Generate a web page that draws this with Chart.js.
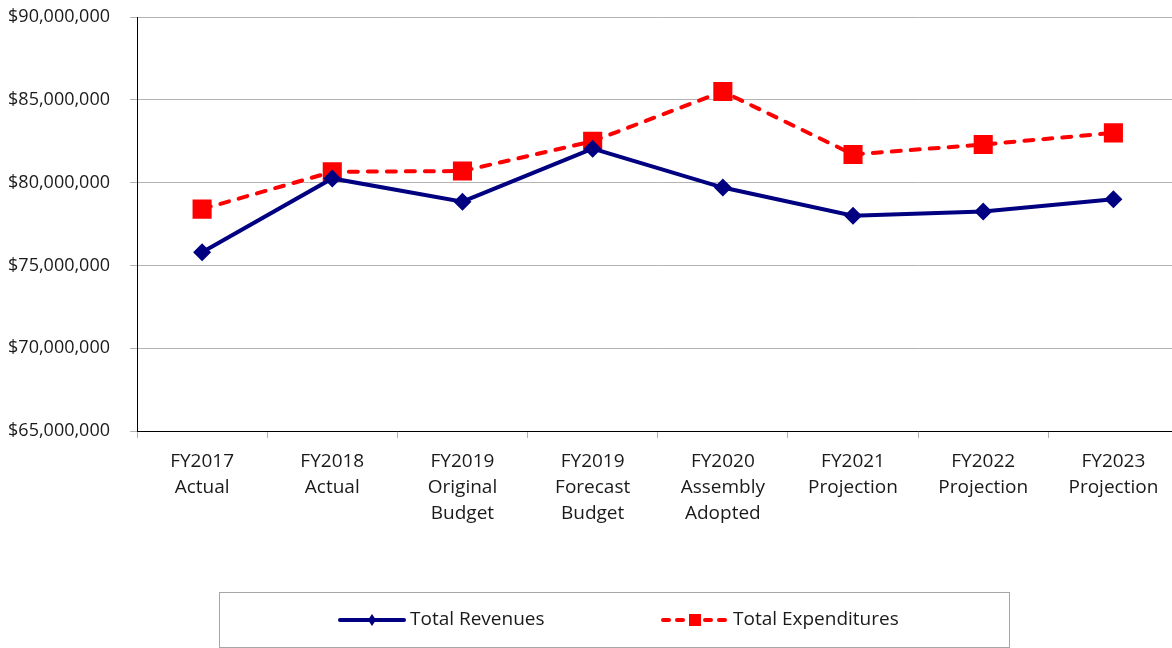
<!DOCTYPE html>
<html>
<head>
<meta charset="utf-8">
<script src="https://cdn.jsdelivr.net/npm/chart.js@4.4.1/dist/chart.umd.min.js"></script>
<style>
  html, body { margin: 0; padding: 0; background: #fff; overflow: hidden; }
  #wrap { width: 1172px; height: 648px; overflow: hidden; }
  canvas { display: block; }
</style>
</head>
<body>
<div id="wrap"><canvas id="lineChart" width="1192" height="648"></canvas></div>
<script>
var categories = [
  ["FY2017", "Actual"],
  ["FY2018", "Actual"],
  ["FY2019", "Original", "Budget"],
  ["FY2019", "Forecast", "Budget"],
  ["FY2020", "Assembly", "Adopted"],
  ["FY2021", "Projection"],
  ["FY2022", "Projection"],
  ["FY2023", "Projection"]
];
var revenues = [75800000, 80250000, 78850000, 82050000, 79700000, 78000000, 78250000, 79000000];
var expenditures = [78400000, 80650000, 80700000, 82500000, 85500000, 81700000, 82300000, 83000000];
var yTicks = [65000000, 70000000, 75000000, 80000000, 85000000, 90000000];

var fontFamily = "'Open Sans', 'DejaVu Sans', sans-serif";
Chart.defaults.font.family = fontFamily;
Chart.defaults.color = "#1a1a1a";

function money(v) {
  return "$" + Number(v).toLocaleString("en-US");
}

// legend drawn as a framed box under the chart
var boxLegend = {
  id: "boxLegend",
  afterDraw: function (chart) {
    var ctx = chart.ctx;
    var bx = 219, by = 592, bw = 790, bh = 55;
    ctx.save();
    ctx.strokeStyle = "#a6a6a6";
    ctx.lineWidth = 1;
    ctx.strokeRect(bx + 0.5, by + 0.5, bw, bh);
    var cy = by + 28;
    var items = [
      { x: 340, ds: chart.data.datasets[0], r: 6 },
      { x: 663, ds: chart.data.datasets[1], r: 9 }
    ];
    items.forEach(function (it) {
      var ds = it.ds;
      ctx.strokeStyle = ds.borderColor;
      ctx.lineWidth = ds.borderWidth;
      ctx.lineCap = "round";
      ctx.setLineDash(ds.borderDash ? [6, 8] : []);
      ctx.beginPath();
      ctx.moveTo(it.x, cy);
      ctx.lineTo(it.x + 64, cy);
      ctx.stroke();
      ctx.setLineDash([]);
      ctx.fillStyle = ds.pointBackgroundColor;
      ctx.beginPath();
      if (ds.pointStyle === "rect") {
        ctx.rect(it.x + 32 - 6, cy - 6, 12, 12);
      } else {
        ctx.moveTo(it.x + 32, cy - it.r);
        ctx.lineTo(it.x + 32 + 4, cy);
        ctx.lineTo(it.x + 32, cy + it.r);
        ctx.lineTo(it.x + 32 - 4, cy);
        ctx.closePath();
      }
      ctx.fill();
      ctx.fillStyle = "#1a1a1a";
      ctx.font = "19px " + fontFamily;
      ctx.textBaseline = "middle";
      ctx.textAlign = "left";
      ctx.fillText(ds.label, it.x + 70, cy);
    });
    ctx.restore();
  }
};

var ctx = document.getElementById("lineChart");
var chart = new Chart(ctx, {
  type: "line",
  data: {
    labels: categories,
    datasets: [
      {
        label: "Total Revenues",
        data: revenues,
        borderColor: "#000080",
        backgroundColor: "#000080",
        pointBackgroundColor: "#000080",
        pointBorderColor: "#000080",
        borderWidth: 4,
        pointStyle: "rectRot",
        pointRadius: 9,
        pointBorderWidth: 0,
        lineTension: 0,
        fill: false
      },
      {
        label: "Total Expenditures",
        data: expenditures,
        borderColor: "#ff0000",
        backgroundColor: "#ff0000",
        pointBackgroundColor: "#ff0000",
        pointBorderColor: "#ff0000",
        borderWidth: 4,
        borderDash: [9, 10],
        borderCapStyle: "round",
        pointStyle: "rect",
        pointRadius: 13.5,
        pointBorderWidth: 0,
        lineTension: 0,
        fill: false
      }
    ]
  },
  options: {
    responsive: false,
    animation: false,
    layout: { padding: { top: 17, right: 2, left: 0, bottom: 117 } },
    plugins: {
      legend: { display: false },
      tooltip: { enabled: false }
    },
    scales: {
      x: {
        offset: true,
        grid: {
          offset: true,
          drawOnChartArea: false,
          drawTicks: true,
          tickLength: 7,
          color: "#b3b3b3"
        },
        border: { color: "#000", width: 1 },
        ticks: {
          font: { size: 19, family: fontFamily, lineHeight: 26 / 19 },
          color: "#1a1a1a",
          padding: 11,
          maxRotation: 0,
          autoSkip: false
        },
        afterFit: function (axis) {
          axis.height = 100;
          axis.paddingLeft = 0;
          axis.paddingRight = 0;
        }
      },
      y: {
        min: 65000000,
        max: 90000000,
        afterBuildTicks: function (axis) {
          axis.ticks = yTicks.map(function (v) { return { value: v }; });
        },
        grid: { color: "#b3b3b3", tickLength: 7 },
        border: { color: "#000", width: 1 },
        ticks: {
          font: { size: 18, family: fontFamily },
          color: "#1a1a1a",
          padding: 20,
          callback: function (v) { return money(v); }
        },
        afterFit: function (axis) {
          axis.width = 137;
          axis.paddingTop = 0;
          axis.paddingBottom = 0;
        }
      }
    }
  },
  plugins: [boxLegend]
});
</script>
</body>
</html>
